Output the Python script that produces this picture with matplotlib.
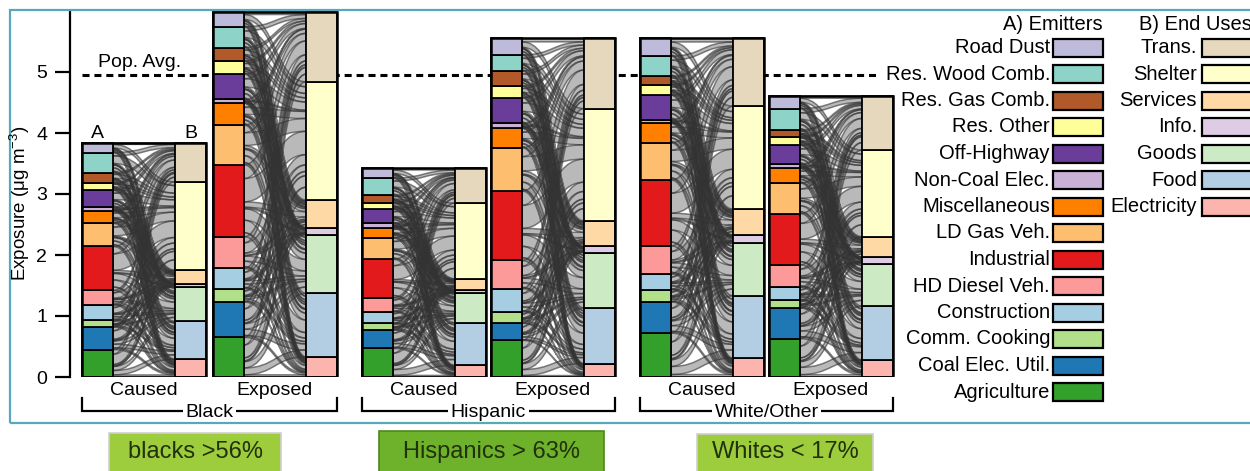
import matplotlib
matplotlib.use("Agg")
import matplotlib.pyplot as plt
from matplotlib.patches import Rectangle, PathPatch
from matplotlib.path import Path
import numpy as np

plt.rcParams['font.family'] = ['Liberation Sans', 'DejaVu Sans']
plt.rcParams['mathtext.fontset'] = 'custom'
plt.rcParams['mathtext.rm'] = 'Liberation Sans'
plt.rcParams['mathtext.it'] = 'Liberation Sans:italic'

# ---------------------------------------------------------------- data
emitters = ["Agriculture", "Coal Elec. Util.", "Comm. Cooking", "Construction",
            "HD Diesel Veh.", "Industrial", "LD Gas Veh.", "Miscellaneous",
            "Non-Coal Elec.", "Off-Highway", "Res. Other", "Res. Gas Comb.",
            "Res. Wood Comb.", "Road Dust"]
end_uses = ["Electricity", "Food", "Goods", "Info.", "Services", "Shelter", "Trans."]

groups = ["Black", "Hispanic", "White/Other"]
panels = ["Caused", "Exposed"]

# PM2.5 exposure by emitter (ug/m3), bottom to top
black_caused_emit = [0.45, 0.37, 0.11, 0.25, 0.24, 0.72, 0.38, 0.20, 0.06, 0.28, 0.12, 0.17, 0.33, 0.16]
black_exposed_emit = [0.65, 0.58, 0.22, 0.33, 0.52, 1.18, 0.65, 0.36, 0.06, 0.42, 0.21, 0.22, 0.34, 0.25]
hisp_caused_emit = [0.47, 0.30, 0.11, 0.19, 0.23, 0.63, 0.35, 0.17, 0.07, 0.23, 0.11, 0.12, 0.28, 0.16]
hisp_exposed_emit = [0.60, 0.28, 0.19, 0.38, 0.46, 1.14, 0.71, 0.32, 0.08, 0.42, 0.19, 0.25, 0.26, 0.27]
white_caused_emit = [0.72, 0.51, 0.20, 0.26, 0.46, 1.08, 0.61, 0.32, 0.06, 0.40, 0.17, 0.14, 0.33, 0.29]
white_exposed_emit = [0.63, 0.50, 0.13, 0.21, 0.37, 0.84, 0.50, 0.24, 0.07, 0.31, 0.14, 0.11, 0.35, 0.21]

# PM2.5 exposure by end use (ug/m3), bottom to top
black_caused_use = [0.29, 0.62, 0.57, 0.05, 0.22, 1.45, 0.64]
black_exposed_use = [0.33, 1.04, 0.96, 0.12, 0.45, 1.94, 1.15]
hisp_caused_use = [0.19, 0.70, 0.49, 0.05, 0.18, 1.24, 0.57]
hisp_exposed_use = [0.22, 0.91, 0.91, 0.10, 0.42, 1.84, 1.15]
white_caused_use = [0.31, 1.02, 0.86, 0.14, 0.42, 1.69, 1.11]
white_exposed_use = [0.28, 0.88, 0.70, 0.11, 0.33, 1.42, 0.89]

pop_avg = 4.95

callouts = ["blacks >56%", "Hispanics > 63%", "Whites < 17%"]

emit_colors = ["#33a02c", "#1f78b4", "#b2df8a", "#a6cee3", "#fb9a99", "#e31a1c",
               "#fdbf6f", "#ff7f00", "#cab2d6", "#6a3d9a", "#ffff99", "#b15928",
               "#8dd3c7", "#bebada"]
use_colors = ["#fbb4ae", "#b3cde3", "#ccebc5", "#decbe4", "#fed9a6", "#ffffcc", "#e5d8bd"]

# ---------------------------------------------------------------- figure
W, H = 1250, 471
fig = plt.figure(figsize=(W / 100, H / 100), dpi=100)


def fx(px):
    return px / W


def fy(py):
    return 1 - py / H


ax = fig.add_axes([fx(70), fy(377), 1 - fx(70), 366 / H])
ax.set_xlim(70, 1250)
ax.set_ylim(0, 6)
for s in ("top", "right", "bottom"):
    ax.spines[s].set_visible(False)
ax.spines["left"].set_linewidth(1.6)
ax.spines["left"].set_bounds(0, 5.98)
ax.set_xticks([])
ax.set_yticks(range(6))
ax.tick_params(axis="y", length=10.5, width=1.6, labelsize=14, pad=6)
ax.patch.set_visible(False)

fig.text(fx(20), fy(203), "Exposure (μg m$^{-3}$)", rotation=90,
         ha="center", va="center", fontsize=13.5)

# population average
ax.plot([82, 877], [pop_avg, pop_avg], color="black", lw=2.2,
        ls=(0, (2.3, 1.6)), zorder=1)
ax.text(98, 5.16, "Pop. Avg.", fontsize=14, ha="left", va="center")

BOX_W, COL_W = 124, 31
box_lefts = [[82, 213], [362, 491], [640, 769]]
series = [
    [(black_caused_emit, black_caused_use), (black_exposed_emit, black_exposed_use)],
    [(hisp_caused_emit, hisp_caused_use), (hisp_exposed_emit, hisp_exposed_use)],
    [(white_caused_emit, white_caused_use), (white_exposed_emit, white_exposed_use)],
]


def ribbon(xl, xr, yl0, yl1, yr0, yr1):
    xm = (xl + xr) / 2
    verts = [(xl, yl0), (xm, yl0), (xm, yr0), (xr, yr0),
             (xr, yr1), (xm, yr1), (xm, yl1), (xl, yl1), (xl, yl0)]
    codes = [Path.MOVETO, Path.CURVE4, Path.CURVE4, Path.CURVE4,
             Path.LINETO, Path.CURVE4, Path.CURVE4, Path.CURVE4, Path.CLOSEPOLY]
    return Path(verts, codes)


def draw_box(x0, emit, use):
    emit = np.asarray(emit, float)
    use = np.asarray(use, float)
    total = emit.sum()
    ax.add_patch(Rectangle((x0, 0), BOX_W, total, facecolor="white",
                           edgecolor="none", zorder=2))
    # flows from each emitter to each end use, split in proportion to end-use shares
    flows = np.outer(emit, use) / use.sum()
    cum_e = np.concatenate([[0], np.cumsum(emit)])
    cum_u = np.concatenate([[0], np.cumsum(use)])
    right_start = np.zeros_like(flows)
    for j in range(len(use)):
        y = cum_u[j]
        for i in range(len(emit)):
            right_start[i, j] = y
            y += flows[i, j]
    xl, xr = x0 + COL_W, x0 + BOX_W - COL_W
    for i in range(len(emit)):
        y = cum_e[i]
        for j in range(len(use)):
            f = flows[i, j]
            p = ribbon(xl, xr, y, y + f, right_start[i, j], right_start[i, j] + f)
            ax.add_patch(PathPatch(p, facecolor="#8e8e8e", alpha=0.62,
                                   edgecolor="none", zorder=3))
            ax.add_patch(PathPatch(p, facecolor="none", edgecolor="#333333",
                                   alpha=0.6, lw=1.1, zorder=3.1))
            y += f
    for i, v in enumerate(emit):
        ax.add_patch(Rectangle((x0, cum_e[i]), COL_W, v, facecolor=emit_colors[i],
                               edgecolor="black", lw=1.3, zorder=4))
    for j, v in enumerate(use):
        ax.add_patch(Rectangle((x0 + BOX_W - COL_W, cum_u[j]), COL_W, v,
                               facecolor=use_colors[j], edgecolor="black", lw=1.3,
                               zorder=4))
    ax.add_patch(Rectangle((x0, 0), BOX_W, total, facecolor="none",
                           edgecolor="black", lw=1.8, zorder=5))
    return total


for g, name in enumerate(groups):
    for p, pname in enumerate(panels):
        x0 = box_lefts[g][p]
        emit, use = series[g][p]
        tot = draw_box(x0, emit, use)
        ax.text(x0 + BOX_W / 2, -0.22, pname, fontsize=14, ha="center",
                va="center", clip_on=False)
        if g == 0 and p == 0:
            ax.text(x0 + COL_W / 2, tot + 0.02, "A", fontsize=14, ha="center",
                    va="bottom")
            ax.text(x0 + BOX_W - COL_W / 2, tot + 0.02, "B", fontsize=14,
                    ha="center", va="bottom")
    # group bracket
    xa, xb = box_lefts[g][0], box_lefts[g][1] + BOX_W
    yb, yt = -0.565, -0.34
    ax.plot([xa, xa, xb, xb], [yt, yb, yb, yt], color="black", lw=1.6,
            clip_on=False, solid_joinstyle="miter")
    ax.text((xa + xb) / 2, yb - 0.01, name, fontsize=14, ha="center", va="center",
            clip_on=False, bbox=dict(facecolor="white", edgecolor="none", pad=2))


# ---------------------------------------------------------------- legends
def legend_patch(x0, x1, yc, color):
    fig.patches.append(Rectangle((fx(x0), fy(yc + 9)), fx(x1) - fx(x0), 18 / H,
                                 transform=fig.transFigure, facecolor=color,
                                 edgecolor="black", lw=1.6))


fig.text(fx(1103), fy(25), "A) Emitters", ha="right", va="center", fontsize=14.5)
fig.text(fx(1139), fy(25), "B) End Uses", ha="left", va="center", fontsize=14.5)
for k, i in enumerate(range(len(emitters) - 1, -1, -1)):
    yc = 47.5 + 26.5 * k
    legend_patch(1053, 1103, yc, emit_colors[i])
    fig.text(fx(1050), fy(yc), emitters[i], ha="right", va="center", fontsize=14.5)
for k, j in enumerate(range(len(end_uses) - 1, -1, -1)):
    yc = 47.5 + 26.5 * k
    legend_patch(1202, 1254, yc, use_colors[j])
    fig.text(fx(1197), fy(yc), end_uses[j], ha="right", va="center", fontsize=14.5)

# outer frame
fig.patches.append(Rectangle((fx(10), fy(423)), fx(1262) - fx(10), (423 - 10) / H,
                             transform=fig.transFigure, facecolor="none",
                             edgecolor="#58a8bc", lw=1.6))

# call-out boxes
boxes = [(109, 281, 433, "#9dcc3c", "#cfcfcf"),
         (379, 604, 431, "#6db22a", "#4a8a1a"),
         (697, 873, 434, "#9dcc3c", "#cfcfcf")]
for (x0, x1, y0, fc, ec), label in zip(boxes, callouts):
    fig.patches.append(Rectangle((fx(x0), fy(476)), fx(x1) - fx(x0), (476 - y0) / H,
                                 transform=fig.transFigure, facecolor=fc,
                                 edgecolor=ec, lw=1.2))
    fig.text(fx((x0 + x1) / 2), fy(452), label, ha="center", va="center",
             fontsize=17, color="#22300c")

fig.savefig("out.png", dpi=100)
